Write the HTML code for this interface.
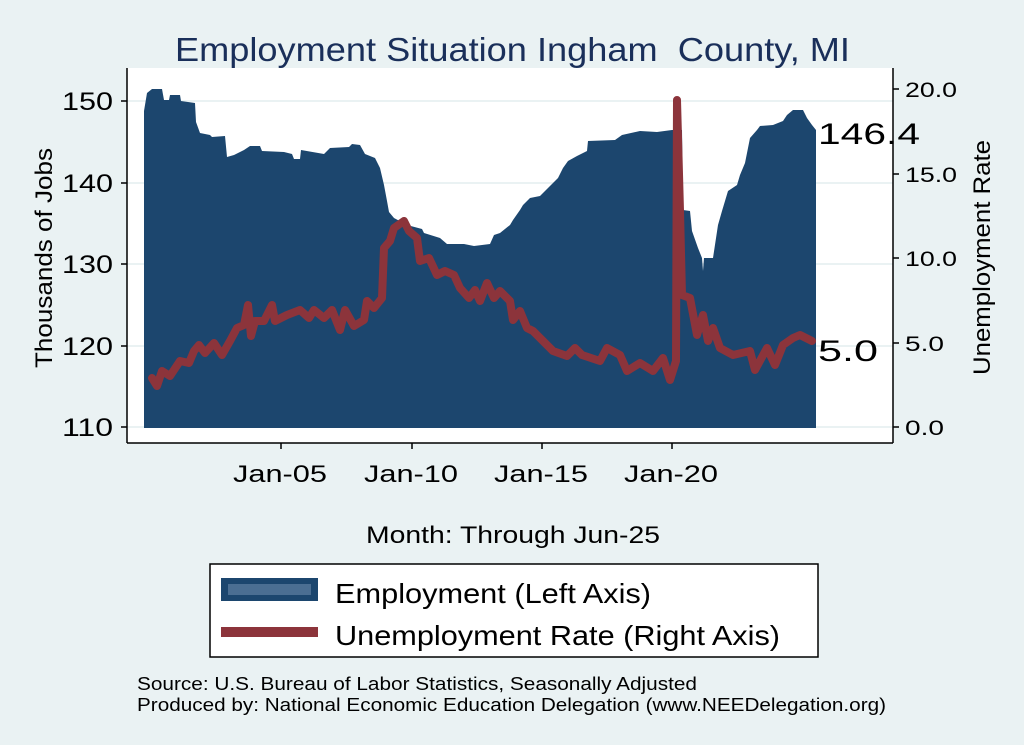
<!DOCTYPE html>
<html><head><meta charset="utf-8"><style>
body{margin:0;background:#eaf2f3;}
svg{display:block;font-family:"Liberation Sans",sans-serif;}
</style></head><body>
<svg width="1024" height="745" viewBox="0 0 1024 745">
<rect width="1024" height="745" fill="#eaf2f3"/>
<text x="175" y="61" font-size="33" fill="#1a2f5a" textLength="675" lengthAdjust="spacingAndGlyphs">Employment Situation Ingham&#160; County, MI</text>
<rect x="127" y="68" width="766" height="375" fill="#fff"/>
<g stroke="#eaf2f3" stroke-width="2">
<line x1="127" y1="101" x2="893" y2="101"/><line x1="127" y1="183" x2="893" y2="183"/>
<line x1="127" y1="264" x2="893" y2="264"/><line x1="127" y1="346" x2="893" y2="346"/>
<line x1="127" y1="427" x2="893" y2="427"/>
</g>
<polygon fill="#1c466e" points="144,428 144,111 147,93 152,89 162,89 164,100 169,100 170,95 180,95 181,101 195,103 196,122 200,133 210,135 212,137 225,136 227,157 234,155 244,150 250,146 260,146 262,151 284,152 292,154 294,159 300,159 301,150 324,154 330,148 349,147 352,144 360,145 365,154 375,158 380,168 384,185 387,201 389,212 394,218 407,225 422,229 424,233 440,238 447,244 464,244 474,246 490,244 494,235 500,233 510,225 513,220 520,210 523,205 530,198 540,196 550,186 558,178 563,168 568,161 577,156 587,151 588,141 615,140 622,135 640,131 657,132 672,130 682,130 683,210 690,211 692,231 698,248 702,258 703,271 704,258 713,258 718,225 722,211 728,191 737,185 740,175 745,163 750,138 757,130 760,126 773,125 783,121 787,115 793,110 803,110 807,118 812,125 816,130 816,428"/>
<polyline fill="none" stroke="#8c343b" stroke-width="8" stroke-linejoin="round" stroke-linecap="round" points="152,378 157,386 162,371 170,376 180,361 189,363 194,351 199,345 205,353 214,343 222,355 230,341 237,328 244,325 248,305 251,336 255,321 264,321 272,305 275,321 287,315 300,310 309,318 314,310 324,318 332,310 340,330 345,310 354,326 364,320 367,301 374,308 382,298 384,248 390,241 394,228 404,221 409,231 417,238 420,261 429,258 437,275 445,271 454,275 460,288 469,298 475,290 480,301 487,283 494,298 500,291 510,301 513,320 520,311 527,328 533,331 543,341 553,351 567,356 575,348 582,355 600,361 607,348 620,355 627,371 640,363 653,371 663,358 670,380 676,361 677,100 680,211 682,295 690,298 697,335 703,315 708,341 713,328 720,348 733,355 750,351 755,370 767,348 775,365 783,345 793,338 800,335 812,341"/>
<g stroke="#000" stroke-width="1.5" fill="none">
<line x1="127" y1="68" x2="127" y2="443"/><line x1="127" y1="443" x2="893" y2="443"/><line x1="893" y1="68" x2="893" y2="443"/>
<line x1="121" y1="101" x2="127" y2="101"/><line x1="121" y1="183" x2="127" y2="183"/><line x1="121" y1="264" x2="127" y2="264"/><line x1="121" y1="346" x2="127" y2="346"/><line x1="121" y1="427" x2="127" y2="427"/>
<line x1="893" y1="89" x2="899" y2="89"/><line x1="893" y1="174" x2="899" y2="174"/><line x1="893" y1="258" x2="899" y2="258"/><line x1="893" y1="343" x2="899" y2="343"/><line x1="893" y1="427" x2="899" y2="427"/>
<line x1="281" y1="443" x2="281" y2="449"/><line x1="412" y1="443" x2="412" y2="449"/><line x1="542" y1="443" x2="542" y2="449"/><line x1="672" y1="443" x2="672" y2="449"/>
</g>
<g font-size="25" fill="#000" lengthAdjust="spacingAndGlyphs">
<text x="62" y="110" textLength="51" lengthAdjust="spacingAndGlyphs">150</text><text x="62" y="192" textLength="51" lengthAdjust="spacingAndGlyphs">140</text><text x="62" y="273" textLength="51" lengthAdjust="spacingAndGlyphs">130</text><text x="62" y="355" textLength="51" lengthAdjust="spacingAndGlyphs">120</text><text x="62" y="436" textLength="51" lengthAdjust="spacingAndGlyphs">110</text>
</g>
<g font-size="21" fill="#000">
<text x="905" y="97" textLength="52" lengthAdjust="spacingAndGlyphs">20.0</text><text x="905" y="182" textLength="52" lengthAdjust="spacingAndGlyphs">15.0</text><text x="905" y="266" textLength="52" lengthAdjust="spacingAndGlyphs">10.0</text><text x="905" y="351" textLength="39" lengthAdjust="spacingAndGlyphs">5.0</text><text x="905" y="435" textLength="39" lengthAdjust="spacingAndGlyphs">0.0</text>
</g>
<g font-size="24" fill="#000">
<text x="233" y="482" textLength="94" lengthAdjust="spacingAndGlyphs">Jan-05</text><text x="364" y="482" textLength="94" lengthAdjust="spacingAndGlyphs">Jan-10</text><text x="494" y="482" textLength="94" lengthAdjust="spacingAndGlyphs">Jan-15</text><text x="624" y="482" textLength="94" lengthAdjust="spacingAndGlyphs">Jan-20</text>
<text x="366" y="543" textLength="294" lengthAdjust="spacingAndGlyphs">Month: Through Jun-25</text>
</g>
<text x="818" y="144" font-size="30" textLength="102" lengthAdjust="spacingAndGlyphs">146.4</text>
<text x="818" y="361" font-size="30" textLength="60" lengthAdjust="spacingAndGlyphs">5.0</text>
<text transform="translate(52,368) rotate(-90)" font-size="24" textLength="220" lengthAdjust="spacingAndGlyphs">Thousands of Jobs</text>
<text transform="translate(990,375) rotate(-90)" font-size="24" textLength="235" lengthAdjust="spacingAndGlyphs">Unemployment Rate</text>
<rect x="210" y="564" width="608" height="93" fill="#fff" stroke="#000" stroke-width="1.5"/>
<rect x="221" y="578" width="97" height="23" fill="#1c466e"/>
<rect x="228" y="584" width="83" height="11" fill="#4b6e92"/>
<rect x="221" y="627" width="97" height="10" fill="#8c343b"/>
<text x="335" y="603" font-size="28" textLength="316" lengthAdjust="spacingAndGlyphs">Employment (Left Axis)</text>
<text x="335" y="645" font-size="28" textLength="445" lengthAdjust="spacingAndGlyphs">Unemployment Rate (Right Axis)</text>
<text x="137" y="690" font-size="18" textLength="560" lengthAdjust="spacingAndGlyphs">Source: U.S. Bureau of Labor Statistics, Seasonally Adjusted</text>
<text x="137" y="711" font-size="18" textLength="749" lengthAdjust="spacingAndGlyphs">Produced by: National Economic Education Delegation (www.NEEDelegation.org)</text>
</svg>
</body></html>
